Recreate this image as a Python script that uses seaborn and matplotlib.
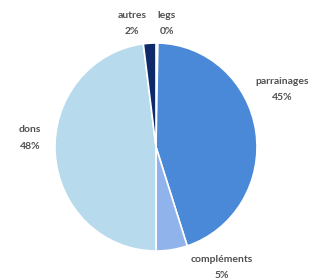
import matplotlib
matplotlib.use("Agg")
import matplotlib.pyplot as plt
import seaborn as sns

# share of resources by origin
categories = ['legs', 'parrainages', 'compléments', 'dons', 'autres']
values = [0.3, 44.7, 5.0, 48.0, 2.0]
pct_labels = ['0%', '45%', '5%', '48%', '2%']
colors = ['#dce8f5', '#4a88d8', '#8fb3ea', '#b7daec', '#0f2a6b']

sns.set_style('white')
plt.rcParams['font.family'] = ['Lato', 'DejaVu Sans']

fig = plt.figure(figsize=(3.15, 2.79), dpi=100)
W, H = 315, 279
# pie centre (156, 147) px from top-left, radius ~102 px
ax = fig.add_axes([(156 - 101) / W, (H - 147 - 104) / H, 202 / W, 208 / H])
ax.pie(values, colors=colors, startangle=90, counterclock=False,
       wedgeprops=dict(edgecolor='white', linewidth=1.2))
ax.set_aspect('auto')
ax.set_xlim(-1, 1)
ax.set_ylim(-1, 1)
ax.axis('off')

# label positions (px, centre of first line)
label_pos = {
    'legs': (167, 15),
    'parrainages': (282, 81),
    'compléments': (222, 260),
    'dons': (30, 130),
    'autres': (132, 15),
}
for cat, pct in zip(categories, pct_labels):
    x, y = label_pos[cat]
    fig.text(x / W, 1 - y / H, cat, ha='center', va='center',
             fontsize=7.5, color='#505050', fontweight='bold')
    fig.text(x / W, 1 - (y + 16) / H, pct, ha='center', va='center',
             fontsize=7.5, color='#505050', fontweight='bold')

fig.savefig('out.png', dpi=100)
